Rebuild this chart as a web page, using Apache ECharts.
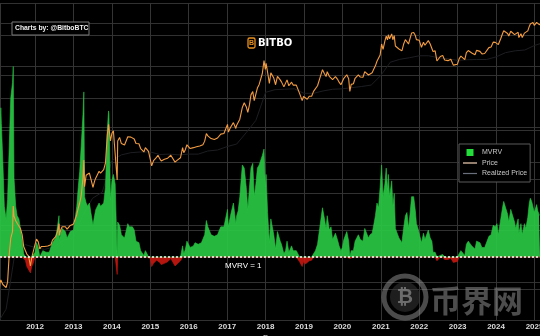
<!DOCTYPE html>
<html><head><meta charset="utf-8">
<script src="https://cdn.jsdelivr.net/npm/echarts/dist/echarts.min.js"></script>
<style>html,body{margin:0;padding:0;background:#000;}#c{width:540px;height:336px;}</style>
</head><body><div id="c"></div>
<script>
const days = [
 '2011-01-01','2011-01-15','2011-02-01','2011-02-10','2011-02-15','2011-03-01','2011-03-15','2011-04-01','2011-04-15','2011-05-01','2011-05-15','2011-06-01','2011-06-08','2011-06-15','2011-07-01','2011-07-15','2011-08-01','2011-08-15','2011-09-01','2011-09-15','2011-10-01','2011-10-15','2011-11-01','2011-11-18','2011-12-01','2011-12-15',
 '2012-01-01','2012-01-15','2012-02-01','2012-02-15','2012-03-01','2012-03-15','2012-04-01','2012-04-15','2012-05-01','2012-05-15','2012-06-01','2012-06-15','2012-07-01','2012-07-15','2012-08-01','2012-08-16','2012-08-20','2012-09-01','2012-09-15','2012-10-01','2012-10-15','2012-11-01','2012-11-15','2012-12-01','2012-12-15',
 '2013-01-01','2013-01-15','2013-02-01','2013-02-15','2013-03-01','2013-03-15','2013-04-01','2013-04-09','2013-04-16','2013-05-01','2013-05-15','2013-06-01','2013-06-15','2013-07-05','2013-07-20','2013-08-01','2013-08-15','2013-09-01','2013-09-15','2013-10-01','2013-10-15','2013-11-01','2013-11-18','2013-11-30','2013-12-04','2013-12-18',
 '2014-01-01','2014-01-15','2014-02-01','2014-02-20','2014-02-25','2014-03-15','2014-04-01','2014-04-15','2014-05-01','2014-05-15','2014-06-01','2014-06-15','2014-07-01','2014-07-15','2014-08-01','2014-08-18','2014-09-01','2014-09-15','2014-10-01','2014-10-15','2014-11-01','2014-11-15','2014-12-01','2014-12-15',
 '2015-01-01','2015-01-14','2015-02-01','2015-02-15','2015-03-01','2015-03-15','2015-04-01','2015-04-15','2015-05-01','2015-05-15','2015-06-01','2015-06-15','2015-07-01','2015-07-15','2015-08-01','2015-08-24','2015-09-01','2015-09-15','2015-10-01','2015-10-15','2015-11-04','2015-11-15','2015-12-01','2015-12-15',
 '2016-01-01','2016-01-15','2016-02-01','2016-02-15','2016-03-01','2016-03-15','2016-04-01','2016-04-15','2016-05-01','2016-05-15','2016-06-01','2016-06-17','2016-07-01','2016-07-15','2016-08-01','2016-08-15','2016-09-01','2016-09-15','2016-10-01','2016-10-15','2016-11-01','2016-11-15','2016-12-01','2016-12-15',
 '2017-01-04','2017-01-12','2017-02-01','2017-02-15','2017-03-01','2017-03-24','2017-04-01','2017-04-15','2017-05-01','2017-05-25','2017-06-12','2017-07-01','2017-07-16','2017-08-01','2017-08-15','2017-09-01','2017-09-15','2017-10-01','2017-10-15','2017-11-01','2017-11-15','2017-12-01','2017-12-17','2017-12-30',
 '2018-01-06','2018-01-20','2018-02-06','2018-02-20','2018-03-05','2018-03-20','2018-04-06','2018-04-24','2018-05-05','2018-05-20','2018-06-01','2018-06-24','2018-07-10','2018-07-24','2018-08-10','2018-08-24','2018-09-05','2018-09-20','2018-10-05','2018-10-20','2018-11-05','2018-11-20','2018-12-01','2018-12-15','2018-12-28',
 '2019-01-15','2019-02-01','2019-02-20','2019-03-15','2019-04-02','2019-04-20','2019-05-10','2019-05-30','2019-06-15','2019-06-26','2019-07-15','2019-07-30','2019-08-10','2019-08-30','2019-09-15','2019-09-30','2019-10-15','2019-10-27','2019-11-15','2019-12-01','2019-12-18',
 '2020-01-01','2020-01-15','2020-02-12','2020-03-01','2020-03-12','2020-03-25','2020-04-15','2020-05-01','2020-05-15','2020-06-01','2020-06-20','2020-07-15','2020-08-01','2020-08-17','2020-09-05','2020-09-20','2020-10-10','2020-10-25','2020-11-10','2020-11-25','2020-12-10','2020-12-25',
 '2021-01-08','2021-01-22','2021-02-08','2021-02-21','2021-03-05','2021-03-13','2021-03-25','2021-04-14','2021-04-25','2021-05-08','2021-05-19','2021-06-01','2021-06-22','2021-07-05','2021-07-20','2021-08-05','2021-08-22','2021-09-06','2021-09-21','2021-10-05','2021-10-20','2021-11-09','2021-11-25','2021-12-05','2021-12-20',
 '2022-01-01','2022-01-22','2022-02-10','2022-02-24','2022-03-10','2022-03-28','2022-04-15','2022-05-01','2022-05-12','2022-06-01','2022-06-18','2022-07-01','2022-07-20','2022-08-12','2022-08-30','2022-09-15','2022-10-01','2022-10-28','2022-11-05','2022-11-21','2022-12-10','2022-12-30',
 '2023-01-15','2023-02-01','2023-02-15','2023-03-10','2023-03-25','2023-04-12','2023-04-30','2023-05-15','2023-06-15','2023-06-30','2023-07-15','2023-08-01','2023-08-20','2023-09-15','2023-10-01','2023-10-25','2023-11-15','2023-12-05','2023-12-25',
 '2024-01-10','2024-01-23','2024-02-15','2024-03-05','2024-03-14','2024-04-01','2024-04-20','2024-05-01','2024-05-20','2024-06-05','2024-06-25','2024-07-05','2024-07-29','2024-08-05','2024-08-25','2024-09-06','2024-09-27','2024-10-10','2024-10-29','2024-11-12','2024-11-22','2024-12-05','2024-12-17','2024-12-30',
 '2025-01-10','2025-01-21','2025-02-01','2025-02-12','2025-02-22'
];
const price = [
 0.30,0.40,0.95,1.10,1.05,0.90,0.86,0.78,1.00,3.5,7.0,9.5,29.6,19,15.4,13.8,13.1,10.9,8.2,4.9,5.0,3.5,3.2,2.05,3.0,3.2,
 5.3,6.8,6.0,4.4,4.9,5.3,4.9,4.9,5.0,5.0,5.3,6.5,6.7,7.6,9.4,13.5,8.0,10.2,11.8,12.4,11.8,10.6,11.2,12.5,13.3,
 13.4,14.2,20.4,27,34,47,104,230,70,117,115,129,100,68,90,104,100,140,128,132,150,203,700,1130,1150,540,
 760,850,820,95,540,630,480,500,450,450,650,600,640,620,590,480,480,475,385,395,330,400,380,340,
 315,178,225,235,260,285,245,220,235,238,225,250,258,285,282,210,228,230,237,255,400,320,370,455,
 432,385,372,400,430,415,417,430,450,455,535,750,675,660,600,570,575,610,615,640,730,715,750,780,
 1130,800,985,1010,1220,940,1090,1180,1420,2400,2950,2480,1930,2720,4200,4890,3250,4400,5700,6700,7300,10900,19300,13000,
 17100,11500,7000,11200,11500,8900,6600,9600,9800,8200,7500,6000,6400,8200,6300,6700,7400,6500,6600,6500,6400,4500,4200,3250,3900,
 3600,3450,3950,3950,4900,5300,6300,8600,8800,12900,10800,9500,11800,9600,10300,8300,8300,9500,8500,7400,6600,
 7200,8800,10300,8600,4900,6700,6900,8800,9400,10200,9300,9200,11800,12300,10200,10900,11300,13100,15300,18800,18300,24700,
 40600,32000,46200,57400,48800,61200,51300,63500,49000,58800,37000,36700,32500,33800,29800,40000,49300,51700,40500,51500,65900,67500,58900,49300,46700,
 47700,35000,43900,38300,39400,47100,40500,38500,29000,29800,19000,19300,23200,24400,19800,19700,19300,20600,21300,15800,17100,16500,
 20900,23700,24300,20200,27500,30300,29200,27200,25100,30500,30300,29200,26100,26600,27900,34500,35600,44000,43600,
 46600,39500,51800,66000,73100,69700,64900,57700,71400,71100,61600,56700,68200,54000,64200,53900,65800,60600,72700,88700,98900,98800,106100,92600,
 94700,106100,100600,97000,96000
];
const mvrv = [
 2.5,3.2,5.0,5.7,5.2,4.0,2.6,2.2,2.8,4.5,6.0,6.5,7.0,3.5,2.6,2.3,2.2,1.9,1.5,1.1,0.9,0.7,0.65,0.5,0.7,0.8,
 1.15,1.45,1.3,1.0,1.1,1.2,1.15,1.15,1.15,1.15,1.2,1.45,1.45,1.6,1.95,2.3,1.5,1.75,1.9,1.9,1.8,1.6,1.65,1.8,1.85,
 1.85,1.9,2.6,3.2,3.7,4.5,5.5,6.2,2.9,2.7,2.6,2.7,2.4,2.0,2.3,2.5,2.5,2.7,2.6,2.6,2.7,3.2,5.0,5.6,5.5,2.8,
 3.4,3.6,3.3,0.45,2.1,2.0,1.7,1.75,1.6,1.65,2.05,1.95,2.0,1.95,1.85,1.5,1.5,1.45,1.2,1.2,1.05,1.2,1.1,1.0,
 0.95,0.7,0.8,0.82,0.9,0.95,0.83,0.76,0.8,0.8,0.77,0.85,0.87,0.95,0.93,0.72,0.78,0.79,0.82,0.88,1.35,1.1,1.25,1.5,
 1.45,1.3,1.27,1.35,1.45,1.4,1.4,1.42,1.45,1.45,1.7,2.15,1.95,1.9,1.7,1.65,1.65,1.7,1.7,1.75,1.95,1.9,1.95,2.0,
 2.5,1.95,2.3,2.3,2.7,2.05,2.3,2.45,2.9,3.9,3.8,3.2,2.5,3.2,3.8,3.95,2.9,3.3,3.8,3.9,3.9,4.2,4.4,3.2,
 3.6,2.4,1.45,2.2,2.2,1.7,1.25,1.8,1.8,1.5,1.4,1.1,1.2,1.5,1.15,1.2,1.35,1.2,1.2,1.2,1.15,0.85,0.8,0.7,0.85,
 0.78,0.75,0.88,0.9,1.1,1.2,1.4,1.9,1.95,2.55,2.2,1.9,2.3,1.85,1.95,1.55,1.5,1.75,1.55,1.35,1.2,
 1.3,1.55,1.8,1.5,0.95,1.2,1.2,1.5,1.55,1.7,1.55,1.5,1.9,1.95,1.6,1.7,1.75,2.0,2.3,2.7,2.55,3.2,
 3.9,2.9,3.3,3.8,3.1,3.6,2.9,3.4,2.6,3.0,1.9,1.85,1.6,1.65,1.45,1.9,2.3,2.4,1.9,2.35,2.9,2.9,2.45,2.05,1.9,
 1.95,1.45,1.75,1.55,1.55,1.85,1.6,1.5,1.15,1.15,0.88,0.9,1.05,1.08,0.92,0.92,0.92,0.96,0.98,0.83,0.87,0.86,
 1.1,1.2,1.25,1.05,1.4,1.5,1.45,1.35,1.25,1.5,1.5,1.45,1.3,1.3,1.35,1.65,1.7,2.0,1.95,
 2.05,1.7,2.2,2.6,2.75,2.55,2.35,2.1,2.5,2.45,2.1,1.9,2.2,1.75,2.05,1.7,2.05,1.9,2.25,2.7,2.85,2.75,2.8,2.4,
 2.4,2.65,2.45,2.35,2.3
];
const realizedDays = ['2011-01-01','2011-04-01','2011-07-01','2011-10-01','2012-01-01','2012-04-01','2012-07-01','2012-10-01','2013-01-01','2013-04-01','2013-07-01','2013-10-01','2014-01-01','2014-04-01','2014-07-01','2014-10-01','2015-01-01','2015-04-01','2015-07-01','2015-10-01','2016-01-01','2016-04-01','2016-07-01','2016-10-01','2017-01-01','2017-04-01','2017-07-01','2017-10-01','2018-01-01','2018-04-01','2018-07-01','2018-10-01','2019-01-01','2019-04-01','2019-07-01','2019-10-01','2020-01-01','2020-04-01','2020-07-01','2020-10-01','2021-01-01','2021-04-01','2021-07-01','2021-10-01','2022-01-01','2022-04-01','2022-07-01','2022-10-01','2023-01-01','2023-04-01','2023-07-01','2023-10-01','2024-01-01','2024-04-01','2024-07-01','2024-10-01','2025-01-01','2025-02-22'];
const realized = [0.15,0.3,4.5,5.3,4.7,4.3,4.8,6.5,7.2,20,42,55,225,290,320,330,330,295,300,290,300,300,345,360,420,470,780,1350,4700,5300,5400,5500,4500,4500,5000,5400,5500,5800,6100,6500,10000,18000,20500,22000,24000,24000,22000,21000,19500,20100,20300,20300,22800,27600,29900,31000,38000,41000];

const xRange = ['2011-02-02', '2025-02-22'];
const mvrvRange = [-1, 9];
const priceRange = [0.181, 251800];
const mvrvLine = 1;

const GREEN = '#29c743', RED = '#c8170f', ORANGE = '#f39c42';
const FONT = '"Liberation Sans", Arial, sans-serif';
const YEAR = 365.25 * 86400000;

const above = days.map((d, i) => [d, Math.max(mvrv[i], mvrvLine)]);
const below = days.map((d, i) => [d, Math.min(mvrv[i], mvrvLine)]);

const chart = echarts.init(document.getElementById('c'), null, {renderer: 'canvas'});
chart.setOption({
  backgroundColor: '#000',
  animation: false,
  grid: {left: 0, right: 0, top: 3, bottom: 15.5, containLabel: false, outerBoundsMode: 'none'},
  xAxis: {
    type: 'time', min: xRange[0], max: xRange[1], minInterval: YEAR, maxInterval: YEAR,
    axisLine: {show: false}, axisTick: {show: false},
    axisLabel: {color: '#dcdcdc', fontSize: 8, fontWeight: 'bold', fontFamily: FONT, margin: 2, formatter: '{yyyy}', hideOverlap: false},
    splitLine: {show: true, lineStyle: {color: '#343434', width: 1}},
    name: 'Day', nameLocation: 'middle', nameGap: 13, nameMoveOverlap: false,
    nameTextStyle: {color: '#dcdcdc', fontSize: 8, fontFamily: FONT, verticalAlign: 'top'}
  },
  yAxis: [
    {type: 'value', min: mvrvRange[0], max: mvrvRange[1], interval: 1,
     axisLabel: {show: false}, axisLine: {show: false}, axisTick: {show: false},
     splitLine: {show: true, lineStyle: {color: '#313131'}}},
    {type: 'log', min: priceRange[0], max: priceRange[1],
     axisLabel: {show: false}, axisLine: {show: false}, axisTick: {show: false},
     splitLine: {show: true, lineStyle: {color: '#313131'}}}
  ],
  legend: {
    orient: 'vertical', left: 459, top: 144,
    backgroundColor: '#000', borderColor: '#5a5a5a', borderWidth: 1, borderRadius: 0,
    padding: [5, 3, 5, 4], itemGap: 3.5, itemWidth: 14, itemHeight: 7,
    textStyle: {color: '#c8c8c8', fontSize: 7, fontFamily: FONT},
    data: [
      {name: 'MVRV', icon: 'path://M0,0h10v10h-10z', itemStyle: {color: '#22dd3a'}},
      {name: 'Price', icon: 'path://M0,0h14v1.2h-14z', itemStyle: {color: '#f5d3b6'}},
      {name: 'Realized Price', icon: 'path://M0,0h14v1.2h-14z', itemStyle: {color: '#6a6f7c'}}
    ]
  },
  series: [
    {name: 'MVRV', type: 'line', yAxisIndex: 0, symbol: 'none', z: 2,
     data: above, color: GREEN,
     lineStyle: {width: 0.6, color: GREEN},
     areaStyle: {origin: mvrvLine, color: GREEN, opacity: 0.92},
     markLine: {silent: true, symbol: 'none', label: {show: false},
       lineStyle: {color: '#ffffff', type: [2, 2], width: 1.5},
       data: [{yAxis: mvrvLine}]}},
    {name: 'MVRV<1', type: 'line', yAxisIndex: 0, symbol: 'none', z: 2,
     data: below, color: RED,
     lineStyle: {width: 0.6, color: RED},
     areaStyle: {origin: mvrvLine, color: RED, opacity: 0.9}},
    {name: 'Realized Price', type: 'line', yAxisIndex: 1, symbol: 'none', z: 1,
     data: realizedDays.map((d, i) => [d, realized[i]]),
     lineStyle: {color: '#1d1e22', width: 1}, itemStyle: {color: '#6a6f7c'}},
    {name: 'Price', type: 'line', yAxisIndex: 1, symbol: 'none', z: 4,
     data: days.map((d, i) => [d, price[i]]),
     lineStyle: {color: ORANGE, width: 1.1}, itemStyle: {color: ORANGE}}
  ],
  graphic: [
    {type: 'rect', shape: {x: 12, y: 22, width: 77, height: 13}, style: {fill: '#000', stroke: '#7a7a7a', lineWidth: 1}, z: 10},
    {type: 'text', x: 15, y: 28.5, style: {text: 'Charts by: @BitboBTC', fill: '#f0f0f0', font: 'bold 6.8px ' + FONT, verticalAlign: 'middle'}, z: 11},
    {type: 'rect', shape: {x: 248, y: 38, width: 7, height: 10, r: 1.5}, style: {fill: 'none', stroke: '#e8901e', lineWidth: 1.3}, z: 10},
    {type: 'text', x: 251.5, y: 43.3, style: {text: 'B', fill: '#e8901e', font: 'bold 7px ' + FONT, align: 'center', verticalAlign: 'middle'}, z: 11},
    {type: 'text', x: 258, y: 43.5, style: {text: 'BITBO', fill: '#ffffff', font: 'bold 10px "DejaVu Sans", sans-serif', verticalAlign: 'middle'}, z: 11},
    {type: 'text', x: 225, y: 266, style: {text: 'MVRV = 1', fill: '#ffffff', font: '8px ' + FONT, verticalAlign: 'middle'}, z: 11},
    {type: 'circle', shape: {cx: 405, cy: 297, r: 21}, style: {fill: 'none', stroke: 'rgba(150,150,150,0.5)', lineWidth: 5}, z: 12},
    {type: 'circle', shape: {cx: 405, cy: 297, r: 15}, style: {fill: 'rgba(60,60,60,0.5)'}, z: 12},
    {type: 'text', x: 405, y: 298, style: {text: '₿', fill: 'rgba(150,150,150,0.65)', font: 'bold 20px "DejaVu Sans", sans-serif', align: 'center', verticalAlign: 'middle'}, z: 13},
    {type: 'text', x: 430, y: 300, style: {text: '币界网', fill: 'rgba(140,140,140,0.55)', font: 'bold 31px "Noto Sans CJK SC", sans-serif', verticalAlign: 'middle'}, z: 12}
  ]
});
</script>
</body></html>
